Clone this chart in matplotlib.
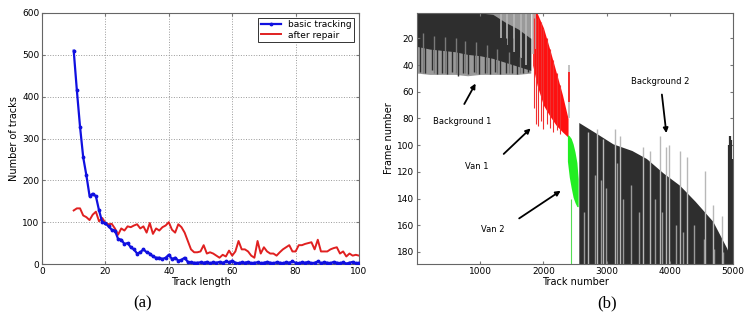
import numpy as np
import matplotlib
matplotlib.use("Agg")
import matplotlib.pyplot as plt

# ---- panel (a): histogram of track lengths ----
track_len = np.arange(10, 101)
basic_tracking = [510, 415, 328, 255, 212, 163, 168, 162, 128, 100,
                  97, 90, 82, 80, 60, 58, 48, 50, 40, 35,
                  25, 28, 35, 28, 25, 18, 15, 15, 12, 15,
                  22, 12, 15, 8, 10, 15, 5, 4, 3, 3,
                  4, 3, 5, 2, 4, 3, 5, 3, 6, 4,
                  8, 3, 2, 4, 3, 5, 2, 3, 4, 2,
                  3, 5, 3, 2, 4, 3, 2, 4, 3, 6,
                  3, 2, 4, 3, 5, 2, 3, 6, 2, 4,
                  3, 2, 5, 3, 2, 4, 1, 3, 5, 2, 3]
after_repair = [128, 133, 133, 116, 112, 105, 118, 125, 102, 110,
                98, 95, 96, 85, 70, 85, 80, 90, 88, 92,
                95, 85, 90, 75, 98, 72, 85, 80, 88, 92,
                100, 82, 75, 95, 88, 75, 55, 35, 28, 28,
                30, 45, 25, 28, 25, 20, 15, 22, 18, 32,
                20, 30, 55, 35, 35, 30, 20, 15, 55, 25,
                40, 30, 25, 25, 20, 28, 35, 40, 45, 30,
                30, 45, 45, 48, 50, 52, 35, 58, 30, 30,
                30, 35, 38, 40, 25, 30, 18, 25, 20, 22, 20]

# ---- panel (b): track extents (track number vs frame) ----
# background 1
bg1_tracks = [0, 200, 400, 600, 800, 1000, 1200, 1400, 1600, 1800]
bg1_dark_start = [1, 1, 1, 1, 1, 1, 2, 8, 13, 20]
bg1_dark_end = [26, 28, 29, 30, 32, 33, 35, 38, 41, 44]
bg1_light_end = [46, 47, 47, 47, 48, 47, 47, 47, 47, 46]
bg1_spikes = [40, 130, 230, 310, 400, 480, 560, 650, 720, 810, 900, 980,
              1070, 1150, 1230, 1320, 1410, 1500, 1590, 1680, 1760]
bg1_spike_end = [45, 46, 44, 47, 46, 47, 45, 48, 46, 47, 45, 47,
                 46, 47, 45, 47, 46, 46, 47, 46, 45]
bg1_gaps = [90, 270, 450, 620, 760, 940, 1110, 1270, 1450, 1630]
bg1_gap_start = [16, 18, 19, 20, 22, 23, 25, 28, 30, 34]
grey_top_tracks = [1330, 1430, 1530, 1640, 1720, 1830, 1860, 2400]
grey_top_start = [1, 1, 1, 1, 1, 1, 1, 40]
grey_top_end = [20, 25, 30, 35, 40, 32, 28, 80]

# van 1
red_tracks = [1830, 1900, 2000, 2100, 2200, 2300, 2390]
red_top = [1, 1, 12, 28, 45, 62, 80]
red_bottom = [40, 55, 70, 78, 85, 90, 94]
red_spikes = [1850, 1880, 1920, 1960, 2000, 2050, 2100, 2150, 2210, 2260]
red_spike_start = [5, 5, 5, 8, 12, 20, 28, 36, 46, 55]
red_spike_end = [72, 84, 86, 82, 88, 84, 87, 90, 89, 92]
red_extra_track = 2410
red_extra = (45, 68)

# van 2
green_tracks = [2380, 2410, 2440, 2470, 2500, 2530, 2550]
green_top = [92, 93, 95, 99, 105, 113, 125]
green_bottom = [112, 124, 132, 139, 143, 146, 146]
green_line_track = 2430

# background 2
bg2_tracks = [2560, 2800, 3100, 3400, 3630, 3900, 4155, 4400, 4680, 4900, 4925]
bg2_top = [83, 90, 99, 104, 110, 121, 130, 142, 157, 177, 180]
bg2_spikes = [2700, 2850, 2950, 3130, 3210, 3570, 3680, 3840, 3935, 3980,
              4155, 4280, 4550, 4680, 4820]
bg2_spike_top = [90, 88, 95, 88, 93, 101, 104, 93, 101, 100,
                 104, 109, 119, 145, 153]
bg2_gaps = [2640, 2820, 2910, 2990, 3160, 3260, 3380, 3520, 3760, 3880,
            4100, 4210, 4380, 4540, 4700, 4840]
bg2_gap_top = [150, 122, 126, 132, 113, 140, 130, 150, 140, 150,
               160, 165, 160, 170, 178, 180]
edge_tracks = [4935, 4950, 4965, 4980]
edge_top = [100, 93, 96, 110]

fig = plt.figure(figsize=(7.47, 3.25), dpi=100)
plt.rcParams['font.family'] = 'DejaVu Sans'

# ---------------- (a) ----------------
ax1 = fig.add_axes([42/747, 1-264/325, 317/747, 251/325])
ax1.plot(track_len, basic_tracking, color='#1010e0', lw=1.6, marker='.',
         markersize=3.5, label='basic tracking', zorder=3)
ax1.plot(track_len, after_repair, color='#e02020', lw=1.4,
         label='after repair', zorder=2)
ax1.set_xlim(0, 100)
ax1.set_ylim(0, 600)
ax1.set_xticks(range(0, 101, 20))
ax1.set_yticks(range(0, 601, 100))
ax1.grid(True, linestyle=':', color='#999999', lw=0.7)
ax1.tick_params(direction='in', top=True, right=True, labelsize=6.5,
                length=2.5, color='#777777', pad=2)
ax1.set_xlabel('Track length', fontsize=7, labelpad=1)
ax1.set_ylabel('Number of tracks', fontsize=7, labelpad=2)
for s in ax1.spines.values():
    s.set_color('#666666')
leg = ax1.legend(loc='upper right', fontsize=6.5, handlelength=2.2,
                 borderpad=0.3, labelspacing=0.15, fancybox=False,
                 framealpha=1, edgecolor='#333333')
leg.get_frame().set_linewidth(0.7)

# ---------------- (b) ----------------
ax2 = fig.add_axes([417/747, 1-264/325, 316/747, 251/325])
dark = '#2e2e2e'
light = '#b8b8b8'
mid = '#9a9a9a'

# background 1
ax2.fill_between(bg1_tracks, 1, bg1_light_end, color=mid, lw=0)
ax2.fill_between(bg1_tracks, bg1_dark_start, bg1_dark_end, color=dark, lw=0)
ax2.vlines(grey_top_tracks, grey_top_start, grey_top_end, color=light, lw=1.2)
ax2.vlines(bg1_spikes, 20, bg1_spike_end, color=dark, lw=1.0)
ax2.vlines(bg1_gaps, bg1_gap_start, 46, color='#7a7a7a', lw=1.0)

# van 1
ax2.fill_between(red_tracks, red_top, red_bottom, color='#ff1010', lw=0)
ax2.vlines(red_spikes, red_spike_start, red_spike_end, color='#f03030', lw=0.8)
ax2.vlines(red_extra_track, *red_extra, color='#ff1010', lw=1.2)

# van 2
ax2.fill_between(green_tracks, green_top, green_bottom, color='#22ee22', lw=0)
ax2.vlines(green_line_track, 140, 189, color='#55dd55', lw=0.8)

# background 2
ax2.vlines(bg2_spikes, bg2_spike_top, 189, color=light, lw=1.0)
ax2.fill_between(bg2_tracks, bg2_top, 189, color=dark, lw=0)
ax2.vlines(bg2_gaps, bg2_gap_top, 189, color='#9a9a9a', lw=1.0)
ax2.vlines(edge_tracks, edge_top, 189, color=dark, lw=1.6)

ax2.set_xlim(0, 5000)
ax2.set_ylim(189, 1)
ax2.set_xticks([1000, 2000, 3000, 4000, 5000])
ax2.set_yticks(range(20, 181, 20))
ax2.tick_params(direction='in', top=True, right=True, labelsize=6.5,
                length=2.5, color='#777777', pad=2)
ax2.set_xlabel('Track number', fontsize=7, labelpad=1)
ax2.set_ylabel('Frame number', fontsize=7, labelpad=2)
for s in ax2.spines.values():
    s.set_color('#666666')

arrow = dict(arrowstyle='-|>', color='black', lw=1.3, mutation_scale=7)
ax2.annotate('', xy=(948, 52), xytext=(727, 71), arrowprops=arrow)
ax2.text(710, 82, 'Background 1', fontsize=6, ha='center', va='center')
ax2.annotate('', xy=(1830, 86), xytext=(1340, 108), arrowprops=arrow)
ax2.text(950, 116, 'Van 1', fontsize=6, ha='center', va='center')
ax2.annotate('', xy=(2310, 133), xytext=(1580, 156), arrowprops=arrow)
ax2.text(1200, 163, 'Van 2', fontsize=6, ha='center', va='center')
ax2.annotate('', xy=(3950, 93), xytext=(3870, 60), arrowprops=arrow)
ax2.text(3840, 52, 'Background 2', fontsize=6, ha='center', va='center')

fig.text(143/747, 1-303/325, '(a)', fontsize=12, family='Liberation Serif',
         ha='center', va='center')
fig.text(607/747, 1-303/325, '(b)', fontsize=12, family='Liberation Serif',
         ha='center', va='center')

fig.savefig('out.png', dpi=100)
